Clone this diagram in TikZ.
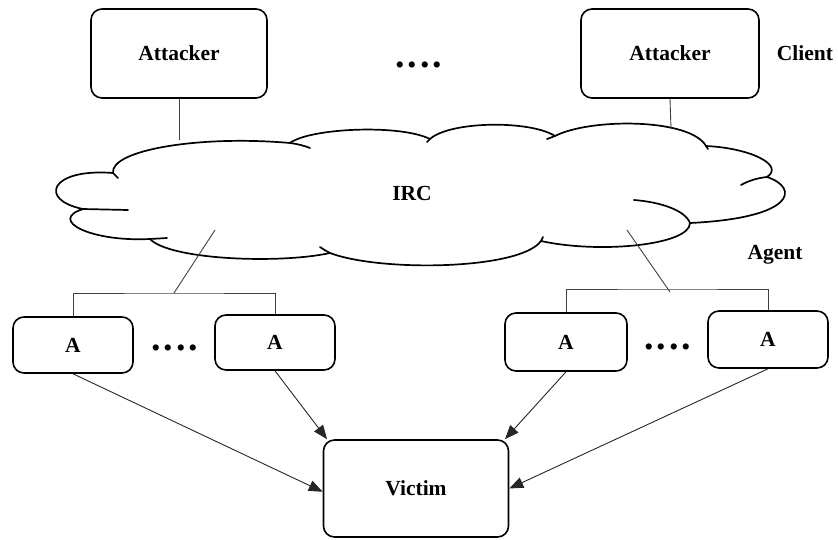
\documentclass[tikz,border=0pt]{standalone}
\usepackage{fontspec}
\setmainfont{Liberation Serif}
\usetikzlibrary{arrows.meta,calc}
\newcommand\dotrow{.\kern3pt.\kern3pt.\kern3pt.}
\begin{document}
\begin{tikzpicture}[x=1pt,y=-1pt,
  box/.style={draw,line width=1.6pt,rounded corners=11pt,inner sep=0pt,
    font=\fontsize{21.5}{25}\selectfont\bfseries},
  lbl/.style={font=\fontsize{21.5}{25}\selectfont\bfseries,inner sep=0pt},
  dots/.style={font=\fontsize{38}{38}\selectfont\bfseries,inner sep=0pt,anchor=base west},
  link/.style={draw=black!75,line width=0.9pt},
  attack/.style={draw=black!85,line width=0.9pt,-{Triangle[length=14pt,width=11pt]}},
  cloudline/.style={line width=1.7pt,line cap=round}]
\useasboundingbox (0,0) rectangle (838,539);

% clients
\node[box,minimum width=176pt,minimum height=89pt] (att1) at (179,53.5) {Attacker};
\node[box,minimum width=178pt,minimum height=89pt] (att2) at (670,53.5) {Attacker};
\node[dots] (tdots) at (395,67.5) {\dotrow};
\node[lbl] (client) at (805,53) {Client};

% IRC cloud outline
\draw[cloudline]
  (113,173) .. controls (110,150) and (200,135) .. (290,143)
  .. controls (310,128) and (400,124) .. (430,139)
  .. controls (450,121) and (530,120) .. (555,136)
  .. controls (590,118) and (690,118) .. (706,146)
  .. controls (750,148) and (785,165) .. (767,177)
  .. controls (800,188) and (795,218) .. (690,223)
  .. controls (690,245) and (600,254) .. (541,241)
  .. controls (520,270) and (380,272) .. (330,253)
  .. controls (280,264) and (170,260) .. (150,239)
  .. controls (90,242) and (48,220) .. (83,209)
  .. controls (38,200) and (50,168) .. cycle;
% inner strokes of the cloud lobes
\draw[cloudline] (290,143) .. controls (298,144) and (305,146) .. (310,148);
\draw[cloudline] (430,139) -- (427,142);
\draw[cloudline] (555,136) -- (547,139);
\draw[cloudline] (706,146) -- (708,149);
\draw[cloudline] (767,177) .. controls (757,178) and (748,181) .. (741,185);
\draw[cloudline] (690,223) .. controls (685,210) and (660,202) .. (634,200);
\draw[cloudline] (541,241) -- (543,237);
\draw[cloudline] (330,253) .. controls (326,251) and (323,249) .. (320,247);
\draw[cloudline] (150,239) -- (167,238);
\draw[cloudline] (83,209) -- (128,210);
\draw[cloudline] (113,173) -- (118,178);
\node[lbl] (irc) at (412,193) {IRC};
\node[lbl] (agent) at (775,255) {Agent};

% client links into the cloud
\coordinate (c1) at (179,140);
\coordinate (c2) at (671,129);
\draw[link] (att1.south) -- (c1);
\draw[link] (att2.south) -- (c2);

% agents
\node[box,minimum width=120pt,minimum height=56pt] (a1) at (73,345) {A};
\node[box,minimum width=120pt,minimum height=55pt] (a2) at (275,342.5) {A};
\node[box,minimum width=122pt,minimum height=58pt] (a3) at (566,342) {A};
\node[box,minimum width=120pt,minimum height=57pt] (a4) at (768,339.5) {A};
\node[dots] (ldots) at (151,350.5) {\dotrow};
\node[dots] (rdots) at (644,349.5) {\dotrow};

% cloud to agent groups
\coordinate (ld) at (215,230);
\coordinate (lj) at (174,293);
\coordinate (rd) at (627,230);
\coordinate (rj) at (668,289);
\coordinate (re) at (670,292);
\draw[link] (a1.north) |- (lj) -| (a2.north);
\draw[link] (a3.north) |- (rj) -| (a4.north);
\draw[link] (ld) -- (lj);
\draw[link] (rd) -- (re);

% victim
\node[box,minimum width=185pt,minimum height=97pt] (v) at (416,488.5) {Victim};
\draw[attack] (a1.south) -- (v.182);
\draw[attack] (a2.south) -- (v.151);
\draw[attack] (a3.south) -- (v.29);
\draw[attack] (a4.south) -- (v.0);
\end{tikzpicture}
\end{document}
